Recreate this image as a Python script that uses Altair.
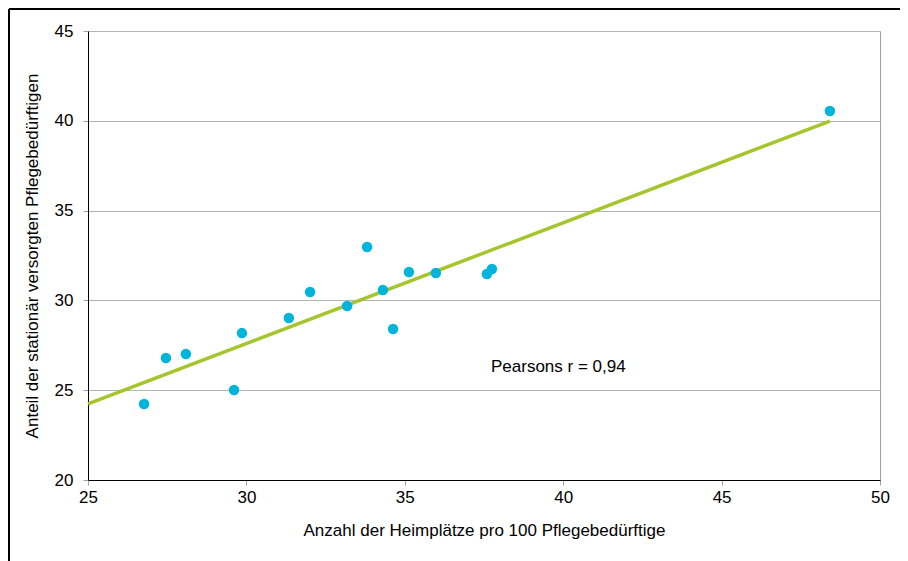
import altair as alt
import pandas as pd

heimplaetze = [26.77, 27.46, 28.09, 29.61, 29.86, 31.34, 32.01, 33.18, 33.81, 34.31,
               34.63, 35.13, 35.98, 37.59, 37.75, 48.42]
anteil = [24.23, 26.79, 27.02, 25.01, 28.18, 29.02, 30.47, 29.69, 32.97, 30.58,
          28.41, 31.58, 31.53, 31.47, 31.75, 40.55]
annotation = "Pearsons r = 0,94"
ann_x = [37.72]
ann_y = [26.3]

df = pd.DataFrame({"x": heimplaetze, "y": anteil})
ann = pd.DataFrame({"x": ann_x, "y": ann_y, "t": [annotation]})

FONT = "Liberation Sans"
xscale = alt.Scale(domain=[25, 50], nice=False, zero=False)
yscale = alt.Scale(domain=[20, 45], nice=False, zero=False)

xaxis = alt.Axis(title="Anzahl der Heimplätze pro 100 Pflegebedürftige",
                 values=[25, 30, 35, 40, 45, 50], grid=False, labelFlush=False,
                 labelPadding=4, titlePadding=17)
yaxis = alt.Axis(title="Anteil der stationär versorgten Pflegebedürftigen",
                 values=[20, 25, 30, 35, 40, 45], grid=True, labelFlush=False,
                 labelPadding=10, titlePadding=13)

base = alt.Chart(df)

points = base.mark_circle(size=110, color="#00b4dc", opacity=1).encode(
    x=alt.X("x:Q", scale=xscale, axis=xaxis),
    y=alt.Y("y:Q", scale=yscale, axis=yaxis),
)

line = base.transform_regression("x", "y", extent=[25, max(heimplaetze)]).mark_line(
    color="#a5c52c", strokeWidth=3.5
).encode(
    x=alt.X("x:Q", scale=xscale),
    y=alt.Y("y:Q", scale=yscale),
)

text = alt.Chart(ann).mark_text(align="left", baseline="middle", font=FONT,
                                fontSize=17, color="black").encode(
    x=alt.X("x:Q", scale=xscale), y=alt.Y("y:Q", scale=yscale), text="t:N"
)

frame_top = alt.Chart(ann).mark_rule(color="black", strokeWidth=2).encode(
    x=alt.value(-79), x2=alt.value(830), y=alt.value(-22)
)
frame_left = alt.Chart(ann).mark_rule(color="black", strokeWidth=2).encode(
    x=alt.value(-79), y=alt.value(-22), y2=alt.value(560)
)

chart = alt.layer(line, points, text, frame_top, frame_left).properties(
    width=792, height=449,
    autosize=alt.AutoSizeParams(type="none"),
    padding={"left": 80, "top": 23, "right": 20, "bottom": 81},
).configure_view(
    stroke="#a0a0a0", strokeWidth=1
).configure_axis(
    domainColor="black", domainWidth=1, tickColor="#a0a0a0", tickSize=5,
    gridColor="#b4b4b4", gridWidth=1,
    labelFont=FONT, labelFontSize=17, labelColor="black",
    titleFont=FONT, titleFontSize=17, titleFontWeight="normal", titleColor="black",
)

chart.save("out.html", embed_options={"renderer": "svg", "actions": False})
